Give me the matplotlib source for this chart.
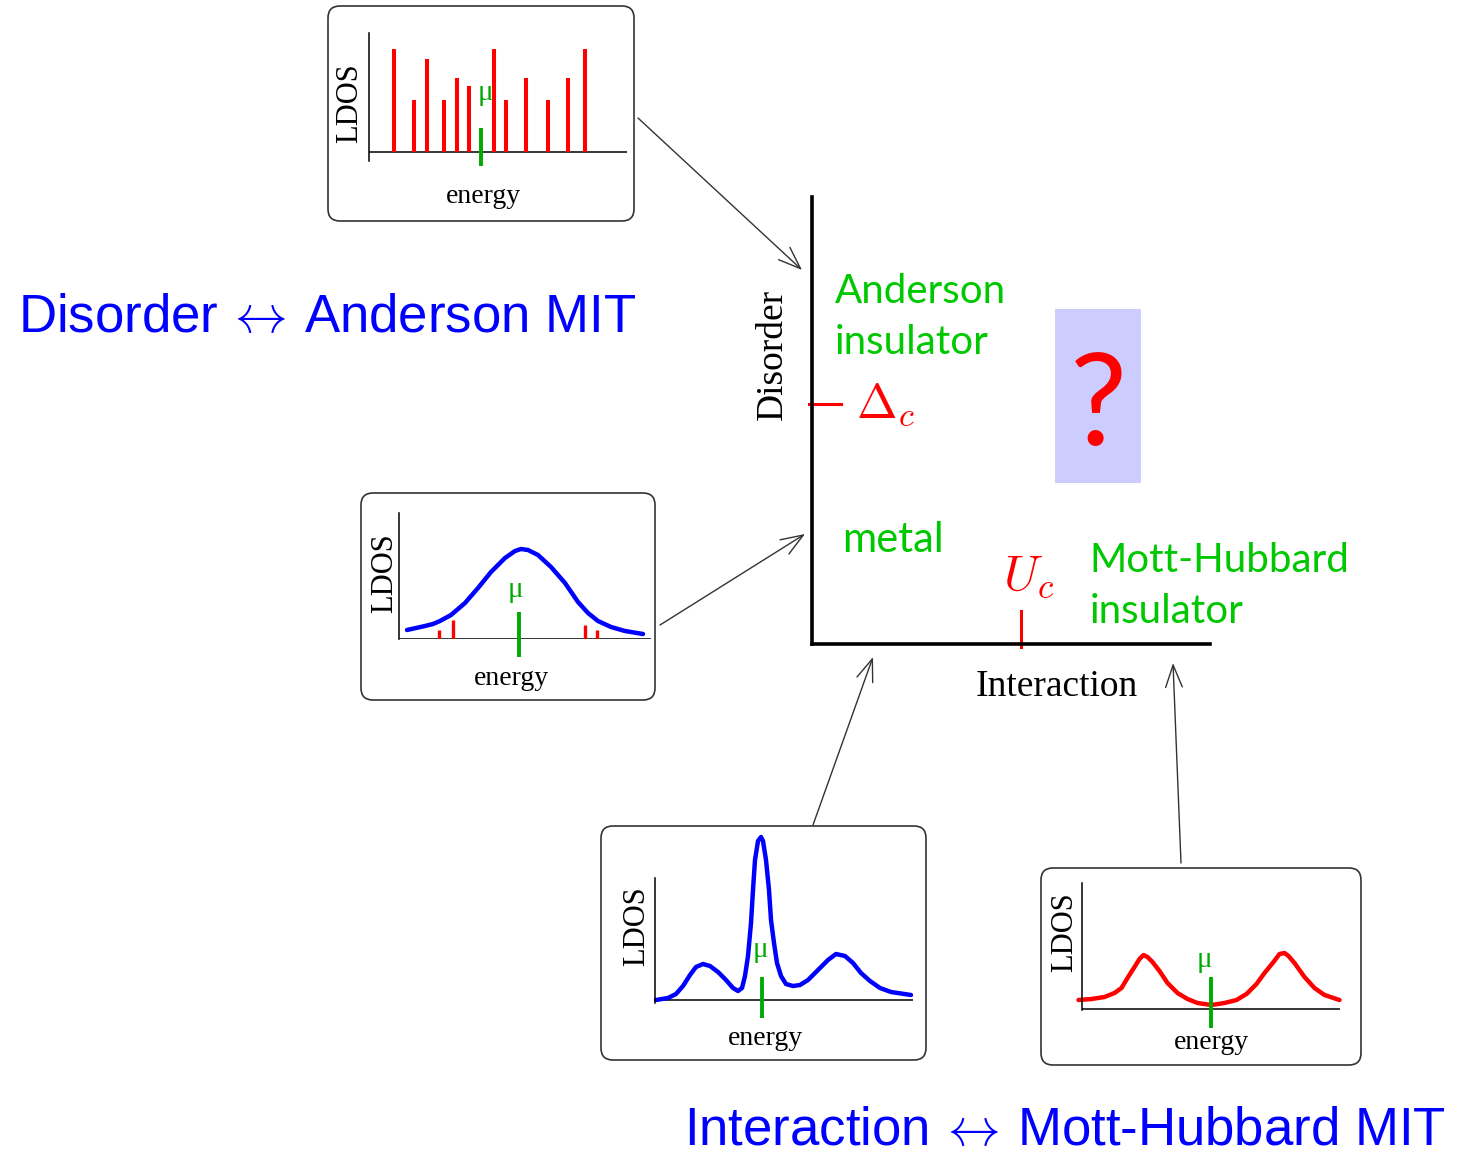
import numpy as np
import matplotlib
matplotlib.use('Agg')
import matplotlib.pyplot as plt
from matplotlib.patches import FancyBboxPatch, Rectangle

plt.rcParams['mathtext.fontset'] = 'cm'

W, H = 1459, 1155

# LDOS panels: energy measured from mu, LDOS from the baseline (arbitrary units)
# disordered, localized: discrete levels
dis_energy = [-0.87, -0.67, -0.54, -0.37, -0.24, -0.12, 0.13, 0.25, 0.45, 0.67, 0.87, 1.04]
dis_ldos = [1.03, 0.52, 0.93, 0.52, 0.74, 0.66, 1.03, 0.52, 0.74, 0.52, 0.74, 1.03]

# metal with weak disorder: broad band + a few localized tail states
band_energy = [-1.12, -1.03, -0.94, -0.86, -0.79, -0.68, -0.54, -0.41, -0.28, -0.14, -0.04, 0.02,
               0.09, 0.19, 0.32, 0.46, 0.59, 0.69, 0.79, 0.92, 1.06, 1.24]
band_ldos = [0.09, 0.11, 0.13, 0.15, 0.18, 0.24, 0.36, 0.51, 0.67, 0.81, 0.88, 0.90,
             0.89, 0.84, 0.72, 0.56, 0.37, 0.26, 0.18, 0.12, 0.08, 0.05]
tail_energy = [-0.80, -0.66, 0.66, 0.78]
tail_ldos = [0.09, 0.19, 0.14, 0.09]

# correlated metal: quasiparticle peak + Hubbard bands
corr_energy = [-1.06, -0.94, -0.86, -0.79, -0.72, -0.66, -0.59, -0.52, -0.44, -0.36,
               -0.29, -0.24, -0.20, -0.17, -0.14, -0.11, -0.09, -0.07, -0.04, -0.01,
               0.01, 0.04, 0.07, 0.09, 0.12, 0.15, 0.19, 0.24, 0.31, 0.38,
               0.46, 0.56, 0.66, 0.74, 0.83, 0.91, 0.99, 1.08, 1.18, 1.29, 1.49]
corr_ldos = [0.00, 0.02, 0.06, 0.14, 0.25, 0.33, 0.36, 0.34, 0.28, 0.20,
             0.12, 0.09, 0.12, 0.24, 0.44, 0.77, 1.10, 1.40, 1.59, 1.63,
             1.59, 1.40, 1.10, 0.80, 0.57, 0.37, 0.24, 0.16, 0.14, 0.15,
             0.20, 0.30, 0.40, 0.46, 0.44, 0.37, 0.27, 0.19, 0.12, 0.08, 0.05]

# Mott insulator: two Hubbard bands, gap at mu
mott_energy = [-1.32, -1.19, -1.06, -0.96, -0.89, -0.83, -0.76, -0.71, -0.67, -0.63,
               -0.58, -0.51, -0.43, -0.33, -0.23, -0.13, 0.01, 0.14, 0.26, 0.36,
               0.46, 0.54, 0.63, 0.69, 0.74, 0.78, 0.84, 0.94, 1.04, 1.14, 1.29]
mott_ldos = [0.09, 0.10, 0.12, 0.16, 0.21, 0.31, 0.42, 0.50, 0.54, 0.52,
             0.47, 0.38, 0.26, 0.16, 0.10, 0.06, 0.04, 0.06, 0.09, 0.15,
             0.25, 0.36, 0.47, 0.55, 0.56, 0.53, 0.46, 0.32, 0.21, 0.14, 0.09]

# green mu markers (low, high) for each panel
mu_bars = [(-0.14, 0.24), (-0.18, 0.27), (-0.18, 0.23), (-0.19, 0.32)]

# phase diagram (axes 0..1)
delta_c = 0.537
u_c = 0.525

GREEN = '#00c800'
BLUE = '#0000ff'
SERIF = 'Liberation Serif'

fig = plt.figure(figsize=(W / 100, H / 100), dpi=100)


def px_axes(left, top, right, bottom):
    return fig.add_axes([left / W, 1 - bottom / H, (right - left) / W, (bottom - top) / H])


ov = px_axes(0, 0, W, H)
ov.set_xlim(0, W)
ov.set_ylim(H, 0)
ov.axis('off')


def ldos_axes(left, top, right, bottom, mu_x, base):
    ax = px_axes(left, top, right, bottom)
    ax.set_xlim((left - mu_x) / 100, (right - mu_x) / 100)
    ax.set_ylim((base - bottom) / 100, (base - top) / 100)
    ax.patch.set_visible(False)
    for s in ['top', 'right', 'bottom']:
        ax.spines[s].set_visible(False)
    ax.spines['left'].set_linewidth(1.1)
    ax.axhline(0, color='k', lw=1.1)
    ax.set_xticks([])
    ax.set_yticks([])
    return ax


# boxes around the panels
boxes = [(328, 6, 634, 221), (361, 493, 655, 700), (601, 826, 926, 1060), (1041, 868, 1361, 1065)]
for (x0, y0, x1, y1) in boxes:
    ov.add_patch(FancyBboxPatch((x0, y0), x1 - x0, y1 - y0,
                                boxstyle='round,pad=0,rounding_size=12',
                                fc='none', ec='#333333', lw=1.2))

# panel labels
ldos_pos = [(350, 103), (385, 573), (637, 926), (1065, 932)]
energy_pos = [(483, 203), (511, 685), (765, 1045), (1211, 1049)]
for (x, y) in ldos_pos:
    ov.text(x, y, 'LDOS', rotation=90, ha='center', va='center', family=SERIF, fontsize=22)
for (x, y) in energy_pos:
    ov.text(x, y, 'energy', ha='center', va='baseline', family=SERIF, fontsize=20)

line_kw = dict(lw=3.2, clip_on=False, solid_capstyle='round', solid_joinstyle='round')

# panel 1
a1 = ldos_axes(369, 33, 627, 161, 481, 152)
a1.vlines(dis_energy, 0, dis_ldos, color='r', lw=2.9, capstyle='butt')
# panel 2
a2 = ldos_axes(399, 513, 651, 639, 519, 639)
a2.vlines(tail_energy, 0, tail_ldos, color='r', lw=2.4, capstyle='butt')
a2.plot(band_energy, band_ldos, color=BLUE, **line_kw)
# panel 3
a3 = ldos_axes(655, 878, 913, 1003, 762, 1000)
a3.plot(corr_energy, corr_ldos, color=BLUE, **line_kw)
# panel 4
a4 = ldos_axes(1082, 883, 1340, 1010, 1210.5, 1009)
a4.plot(mott_energy, mott_ldos, color='r', **line_kw)

mu_label_y = [0.59, 0.49, 0.50, 0.49]
mu_label_x = [0.04, -0.04, -0.02, -0.06]
for ax, (lo, hi), lx, ly in zip([a1, a2, a3, a4], mu_bars, mu_label_x, mu_label_y):
    ax.plot([0, 0], [lo, hi], color='#00aa00', lw=2.8, clip_on=False, solid_capstyle='butt', zorder=3)
    ax.text(lx, ly, '\u03bc', color='#00aa00', family=SERIF, fontsize=21,
            ha='center', va='center', clip_on=False)

# arrows from panels to phase diagram
arrows = [((638, 118), (802, 270)), ((660, 625), (805, 534)),
          ((813, 825), (873, 657)), ((1181, 863), (1173, 663))]
for start, tip in arrows:
    ov.annotate('', xy=tip, xytext=start,
                arrowprops=dict(arrowstyle='->,head_length=0.8,head_width=0.3',
                                mutation_scale=20, color='#333333', lw=1.0,
                                shrinkA=0, shrinkB=0))

# phase diagram
pd_ax = px_axes(812, 197, 1210, 644)
pd_ax.set_xlim(0, 1)
pd_ax.set_ylim(0, 1)
pd_ax.patch.set_visible(False)
for s in ['top', 'right']:
    pd_ax.spines[s].set_visible(False)
for s in ['left', 'bottom']:
    pd_ax.spines[s].set_linewidth(2.6)
pd_ax.set_xticks([])
pd_ax.set_yticks([])

pd_ax.plot([-0.0075, 0.073], [delta_c, delta_c], color='r', lw=2.2, clip_on=False)
pd_ax.plot([u_c, u_c], [-0.006, 0.0745], color='r', lw=2.2, clip_on=False)
pd_ax.text(0.111, 0.506, r'$\Delta_c$', color='r', fontsize=35, va='baseline')
pd_ax.text(0.48, 0.121, r'$U_c$', color='r', fontsize=36, va='baseline')

pd_ax.add_patch(Rectangle((0.61, 0.36), 0.216, 0.389, color='#ccccff', lw=0))
pd_ax.text(0.719, 0.445, '?', color='r', fontsize=92, family='Lato', ha='center', va='baseline')

green_kw = dict(color=GREEN, family='Lato', va='baseline')
pd_ax.text(0.058, 0.763, 'Anderson', fontsize=29, **green_kw)
pd_ax.text(0.058, 0.649, 'insulator', fontsize=29, **green_kw)
pd_ax.text(0.075, 0.206, 'metal', fontsize=30, **green_kw)
pd_ax.text(0.696, 0.161, 'Mott-Hubbard', fontsize=29, **green_kw)
pd_ax.text(0.698, 0.047, 'insulator', fontsize=29, **green_kw)

pd_ax.text(-0.098, 0.647, 'Disorder', rotation=90, ha='center', va='center', family=SERIF, fontsize=27)
pd_ax.text(0.616, -0.095, 'Interaction', ha='center', va='center', family=SERIF, fontsize=27)

# headlines
ov.text(18, 332, 'Disorder$\\,\\leftrightarrow\\,$Anderson MIT', color=BLUE, fontsize=38,
        family='Liberation Sans', va='baseline')
ov.text(684, 1145, 'Interaction$\\,\\leftrightarrow\\,$Mott-Hubbard MIT', color=BLUE, fontsize=38,
        family='Liberation Sans', va='baseline')

fig.savefig('out.png', dpi=100)
